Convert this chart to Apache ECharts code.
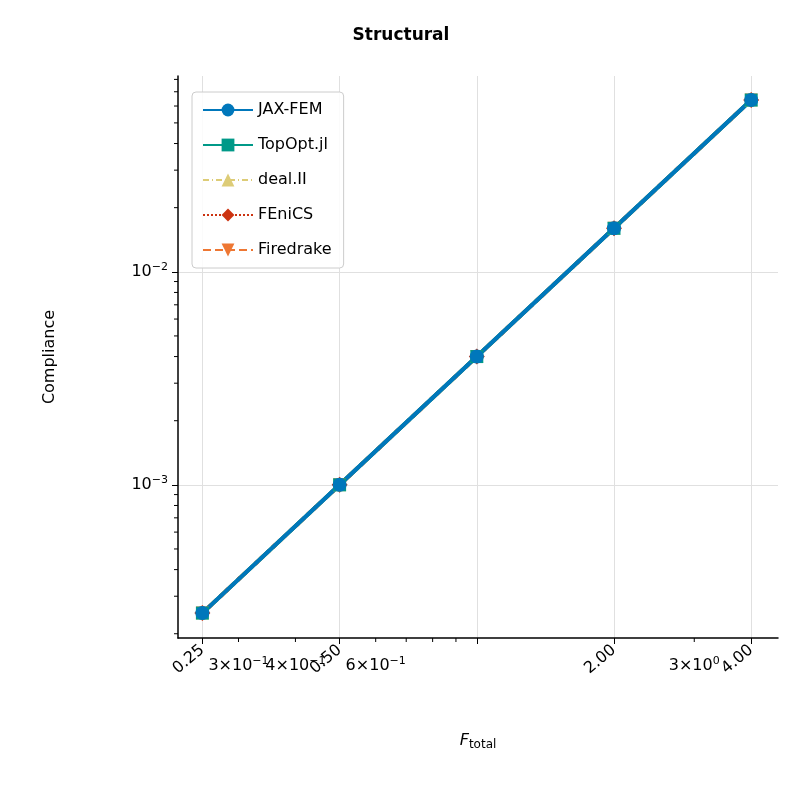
<!DOCTYPE html>
<html><head><meta charset="utf-8">
<script src="https://cdn.jsdelivr.net/npm/echarts@6/dist/echarts.min.js"></script>
<style>html,body{margin:0;background:#fff}#c{width:802px;height:811px}</style>
</head><body><div id="c"></div>
<script>
var F = [0.25, 0.5, 1, 2, 4];
var compliance = [0.00025, 0.001, 0.004, 0.016, 0.064];
var solvers = [
  {name:'JAX-FEM',   color:'#0077bb', symbol:'circle',      type:'solid'},
  {name:'TopOpt.jl', color:'#009988', symbol:'rect',        type:'solid'},
  {name:'deal.II',   color:'#ddcc77', symbol:'triangle',    type:[6,3,1,3]},
  {name:'FEniCS',    color:'#cc3311', symbol:'diamond',     type:'dotted'},
  {name:'Firedrake', color:'#ee7733', symbol:'path://M0,0L10,0L5,10Z', type:'dashed'}
];
var font = 'DejaVu Sans';
var sup = {fontSize:11, fontFamily:font, color:'#000', verticalAlign:'top', padding:[0,0,9,0]};
var chart = echarts.init(document.getElementById('c'));
var series = solvers.map(function(s){
  return {name:s.name, type:'line', data:F.map(function(f,i){return [f, compliance[i]];}),
    symbol:s.symbol, symbolSize:s.symbol==='circle'?14:(s.symbol==='diamond'?16:13), showSymbol:true,
    lineStyle:{color:s.color, width:4, type:s.type}, itemStyle:{color:s.color}};
}).reverse();
chart.setOption({
  animation:false,
  textStyle:{fontFamily:font},
  title:{text:'Structural', left:'center', top:22, textStyle:{fontSize:17, fontWeight:'bold', color:'#000', fontFamily:font}},
  grid:{left:178, right:24, top:76, bottom:173},
  legend:{left:192, top:92, orient:'vertical', itemGap:19, itemWidth:50, itemHeight:16,
    backgroundColor:'rgba(255,255,255,0.85)', borderColor:'#ccc', borderWidth:1, borderRadius:4, padding:[10,12,10,10],
    textStyle:{fontSize:16, color:'#000', fontFamily:font},
    data:solvers.map(function(s){return s.name;})},
  xAxis:{type:'log', logBase:2, min:0.221, max:4.58,
    name:'{i|F}{s|total}', nameLocation:'middle', nameGap:92,
    nameTextStyle:{rich:{i:{fontSize:16, fontStyle:'italic', fontFamily:font, color:'#000'}, s:{fontSize:12, fontFamily:font, color:'#000', verticalAlign:'bottom', padding:[9,0,0,0]}}},
    axisLine:{lineStyle:{color:'#000', width:1.5}}, axisTick:{inside:false, length:6, lineStyle:{color:'#000'}},
    splitLine:{show:true, showMinLine:false, showMaxLine:false, lineStyle:{color:'#e0e0e0'}},
    axisLabel:{rotate:40, fontSize:16, color:'#000', margin:10, showMinLabel:false, showMaxLabel:false,
      formatter:function(v){ if (Math.abs(v-1)<1e-6) return ''; return v.toFixed(2); }}},
  yAxis:{type:'log', logBase:10, min:1.91e-4, max:0.083,
    name:'Compliance', nameLocation:'middle', nameGap:120, nameTextStyle:{fontSize:16, color:'#000', fontFamily:font},
    axisLine:{show:true, lineStyle:{color:'#000', width:1.5}}, axisTick:{show:true, length:6, lineStyle:{color:'#000'}},
    splitLine:{show:true, showMinLine:false, showMaxLine:false, lineStyle:{color:'#e0e0e0'}},
    axisLabel:{fontSize:16, color:'#000', margin:10, showMinLabel:false, showMaxLabel:false,
      formatter:function(v){ var e=Math.round(Math.log10(v)); return '10{s|'+(e<0?'\u2212'+(-e):e)+'}'; },
      rich:{s:sup}}},
  series:series
});
// matplotlib minor tick labels on x
var minor = [[0.3,'3\u00d710{s|\u22121}'],[0.4,'4\u00d710{s|\u22121}'],[0.6,'6\u00d710{s|\u22121}'],[3,'3\u00d710{s|0}']];
var gr = minor.map(function(m){
  var p = chart.convertToPixel({gridIndex:0},[m[0],1e-3]);
  return {type:'text', x:p[0], y:656, style:{text:m[1], fontSize:16, fontFamily:font, fill:'#000', align:'center', rich:{s:sup}}};
});
[0.3,0.4,0.6,0.7,0.8,0.9,3].forEach(function(v){
  var p = chart.convertToPixel({gridIndex:0},[v,1e-3]);
  gr.push({type:'line', shape:{x1:p[0],y1:638,x2:p[0],y2:642}, style:{stroke:'#000', lineWidth:1}});
});
[2e-4,3e-4,4e-4,5e-4,6e-4,7e-4,8e-4,9e-4,2e-3,3e-3,4e-3,5e-3,6e-3,7e-3,8e-3,9e-3,2e-2,3e-2,4e-2,5e-2,6e-2,7e-2,8e-2].forEach(function(v){
  var p = chart.convertToPixel({gridIndex:0},[1,v]);
  gr.push({type:'line', shape:{x1:174,y1:p[1],x2:178,y2:p[1]}, style:{stroke:'#000', lineWidth:1}});
});
chart.setOption({graphic:gr});
</script></body></html>
